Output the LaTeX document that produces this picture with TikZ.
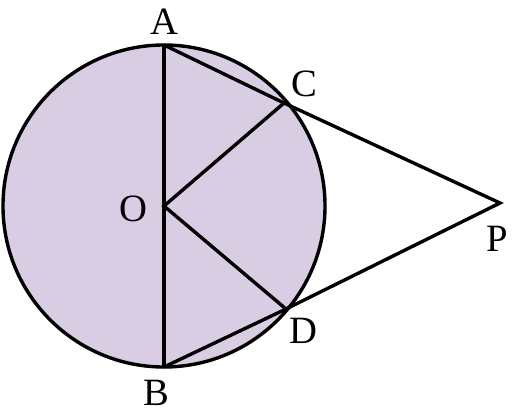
\documentclass[tikz,border=0pt]{standalone}
\usepackage{fontspec}
\setmainfont{Liberation Serif}
\definecolor{discfill}{RGB}{216,205,227}
\tikzset{
  seg/.style={line width=2.9pt},
  lbl/.style={font=\fontsize{33}{36}\selectfont, inner sep=0pt}
}
\begin{document}
\begin{tikzpicture}[x=0.03cm, y=-0.03cm]
  \useasboundingbox (0,0) rectangle (512,415);

  \coordinate (O) at (164,206);
  \coordinate (A) at (164,45);
  \coordinate (B) at (164,367);
  \coordinate (C) at (284,103);
  \coordinate (D) at (286,309);
  \coordinate (P) at (500,203);

  \fill[discfill] (O) circle [radius=4.83cm];
  \draw[seg] (O) circle [radius=4.83cm];

  \draw[seg] (A) -- (B);
  \draw[seg] (A) -- (C) -- (P) -- (D) -- (B);
  \draw[seg] (C) -- (O) -- (D);

  \node[lbl] (lA) at (164,22) {A};
  \node[lbl] (lC) at (304,84) {C};
  \node[lbl] (lO) at (133,209) {O};
  \node[lbl] (lP) at (497,239) {P};
  \node[lbl] (lD) at (303,331) {D};
  \node[lbl] (lB) at (156,393) {B};
\end{tikzpicture}
\end{document}
